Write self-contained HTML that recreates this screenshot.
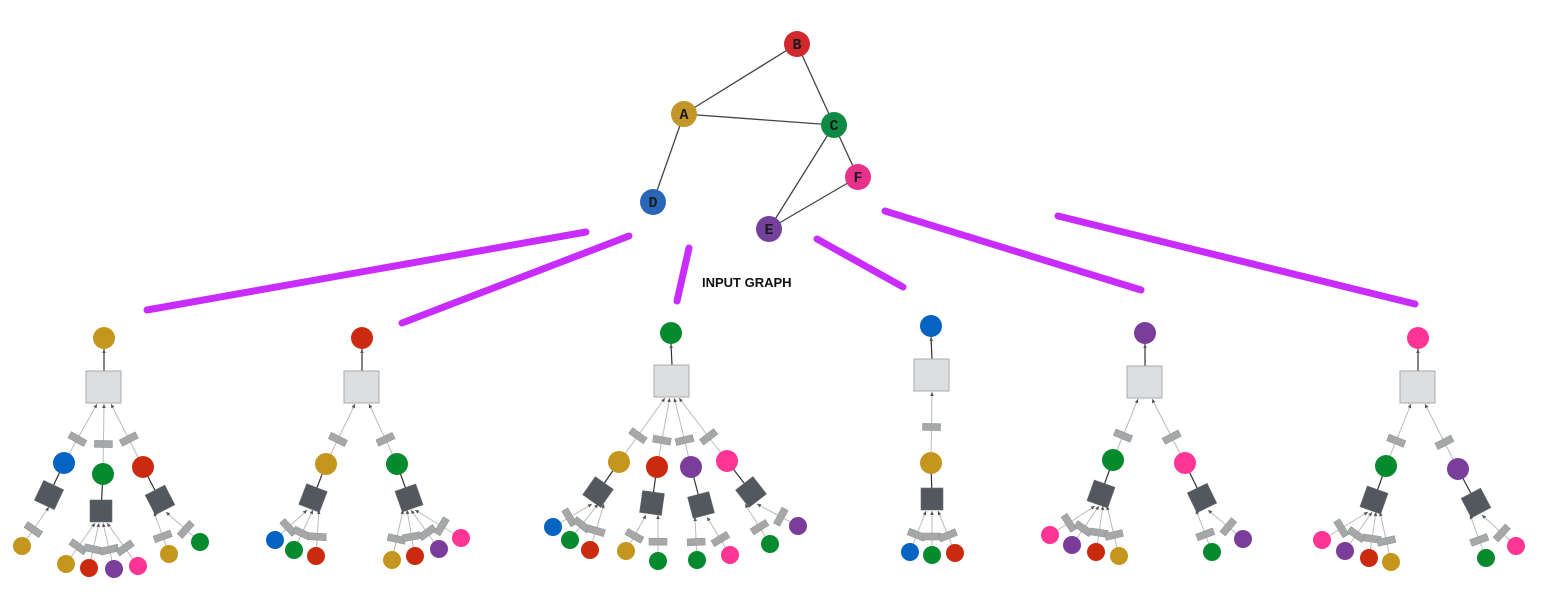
<!DOCTYPE html>
<html><head><meta charset="utf-8"><style>
html,body{margin:0;padding:0;background:#fff;width:1541px;height:603px;overflow:hidden}
svg{display:block}
</style></head><body>
<svg id="s" width="1541" height="603" xmlns="http://www.w3.org/2000/svg">
<g stroke="#c82cff" stroke-width="7" stroke-linecap="round">
<line x1="147" y1="310" x2="586" y2="232"/>
<line x1="402" y1="323" x2="629" y2="236"/>
<line x1="677" y1="301" x2="689" y2="248"/>
<line x1="817" y1="239" x2="903" y2="287"/>
<line x1="885" y1="211" x2="1141" y2="290"/>
<line x1="1058" y1="216" x2="1415" y2="304"/>
</g>
<g stroke="#444" stroke-width="1.3">
<line x1="684" y1="114" x2="797" y2="44"/>
<line x1="684" y1="114" x2="834" y2="125"/>
<line x1="797" y1="44" x2="834" y2="125"/>
<line x1="684" y1="114" x2="653" y2="202"/>
<line x1="834" y1="125" x2="769" y2="229"/>
<line x1="834" y1="125" x2="858" y2="177"/>
<line x1="858" y1="177" x2="769" y2="229"/>
</g>
<g font-family="'Liberation Mono',monospace" font-weight="bold" font-size="15" text-anchor="middle" fill="#1a1a1a">
<circle cx="797" cy="44" r="13" fill="#d0282c"/><text x="797" y="49">B</text>
<circle cx="684" cy="114" r="13" fill="#c4962a"/><text x="684" y="119">A</text>
<circle cx="834" cy="125" r="13" fill="#0e8a45"/><text x="834" y="130">C</text>
<circle cx="858" cy="177" r="13" fill="#e8318b"/><text x="858" y="182">F</text>
<circle cx="653" cy="202" r="13" fill="#2a66b8"/><text x="653" y="207">D</text>
<circle cx="769" cy="229" r="13" fill="#74419a"/><text x="769" y="234">E</text>
</g>
<text x="702" y="287" font-family="'Liberation Sans',sans-serif" font-weight="bold" font-size="13" fill="#111">INPUT GRAPH</text>
<g id="trees"></g>
</svg>
<script>
var C={g:"#c4961e",b:"#0563c1",n:"#058a2e",r:"#cc2a0f",p:"#7a3d9a",k:"#ff3595"};
var L="",S="",N="";
function ang(x1,y1,x2,y2){return Math.atan2(y2-y1,x2-x1)*180/Math.PI;}
function proj(x1,y1,x2,y2,px,py){var dx=x2-x1,dy=y2-y1,t=((px-x1)*dx+(py-y1)*dy)/(dx*dx+dy*dy);t=Math.max(0.2,Math.min(0.8,t));return [x1+dx*t,y1+dy*t];}
function lab(x,y,a){a+=90;while(a>90)a-=180;while(a<-90)a+=180;S+='<rect x="'+(x-9)+'" y="'+(y-3.5)+'" width="18" height="7" fill="#a5a7a8" stroke="#8f9192" stroke-width="0.5" transform="rotate('+a+' '+x+' '+y+')"/>';}
function arrow(x,y,a){S+='<polygon points="0,0 -4,-1.8 -4,1.8" fill="#555" transform="translate('+x+' '+y+') rotate('+a+')"/>';}
function circ(x,y,c,r){N+='<circle cx="'+x+'" cy="'+y+'" r="'+(r||10)+'" fill="'+C[c]+'"/>';}
function tree(t){
 var rx=t.root[0],ry=t.root[1],bx=t.box[0],by=t.box[1];
 L+='<line x1="'+bx+'" y1="'+(by-16)+'" x2="'+rx+'" y2="'+(ry+11)+'" stroke="#333" stroke-width="1.2"/>';
 arrow(rx,ry+11,ang(bx,by-16,rx,ry+11));
 N+='<rect x="'+(bx-18)+'" y="'+(by-16)+'" width="35" height="32" fill="#dddee0" stroke="#a9abad" stroke-width="1"/>';
 circ(rx,ry,t.root[2],11);
 t.ch.forEach(function(c,i){
  var n=t.ch.length,tx=bx+(n==1?0:(-7+14*i/(n-1))),ty=by+17;
  L+='<line x1="'+c.x+'" y1="'+c.y+'" x2="'+tx+'" y2="'+ty+'" stroke="#bbb" stroke-width="1"/>';
  arrow(tx,ty,ang(c.x,c.y,tx,ty));
  var p=proj(c.x,c.y,tx,ty,c.l[0],c.l[1]);
  lab(p[0],p[1],ang(c.x,c.y,tx,ty));
  circ(c.x,c.y,c.c,11);
  var dx=c.d[0],dy=c.d[1],a=ang(dx,dy,c.x,c.y)+90;
  L+='<line x1="'+dx+'" y1="'+dy+'" x2="'+c.x+'" y2="'+(c.y)+'" stroke="#333" stroke-width="1.2"/>';
  N+='<rect x="'+(dx-11)+'" y="'+(dy-11)+'" width="22" height="22" fill="#53575e" stroke="#6a6d72" stroke-width="0.6" transform="rotate('+(c.rot?a:0)+' '+dx+' '+dy+')"/>';
  var m=c.lv.length;
  c.lv.forEach(function(v,j){
   var ex=dx+(m==1?0:(-6+12*j/(m-1))), ey=dy+12;
   var t=0.42,qx=v[0]+(ex-v[0])*t,qy=v[1]+(ey-v[1])*t;
   L+='<line x1="'+v[0]+'" y1="'+v[1]+'" x2="'+ex+'" y2="'+ey+'" stroke="#bbb" stroke-width="1"/>';
   arrow(ex,ey,ang(v[0],v[1],ex,ey));
   lab(qx,qy,ang(v[0],v[1],ex,ey));
   circ(v[0],v[1],v[2],9);
  });
 });
}
var T=[
{root:[104,338,"g"],box:[104,387],ch:[
 {x:64,y:463,c:"b",l:[79,440],d:[49,495],rot:1,lv:[[22,546,"g",32,528]]},
 {x:103,y:474,c:"n",l:[103,444],d:[101,511],rot:0,lv:[[66,564,"g",75,546],[89,568,"r",92,550],[114,569,"p",111,550],[138,566,"k",127,548]]},
 {x:143,y:467,c:"r",l:[127,440],d:[160,500],rot:1,lv:[[169,554,"g",166,537],[200,542,"n",187,528]]}]},
{root:[362,338,"r"],box:[362,387],ch:[
 {x:326,y:464,c:"g",l:[339,440],d:[313,498],rot:1,lv:[[275,540,"b",287,525],[294,550,"n",299,533],[316,556,"r",315,535]]},
 {x:397,y:464,c:"n",l:[386,439],d:[409,498],rot:1,lv:[[392,560,"g",395,540],[415,556,"r",412,538],[439,549,"p",430,532],[461,538,"k",445,524]]}]},
{root:[671,333,"n"],box:[672,381],ch:[
 {x:619,y:462,c:"g",l:[637,435],d:[598,492],rot:1,lv:[[553,527,"b",567,514],[570,540,"n",578,524],[590,550,"r",593,529]]},
 {x:657,y:467,c:"r",l:[661,440],d:[652,503],rot:1,lv:[[626,551,"g",634,536],[658,561,"n",656,542]]},
 {x:691,y:467,c:"p",l:[685,440],d:[701,505],rot:1,lv:[[697,560,"n",698,543],[730,555,"k",721,539]]},
 {x:727,y:461,c:"k",l:[711,435],d:[751,492],rot:1,lv:[[770,544,"n",763,528],[798,526,"p",782,516]]}]},
{root:[931,326,"b"],box:[932,375],ch:[
 {x:931,y:463,c:"g",l:[932,427],d:[932,499],rot:0,lv:[[910,552,"b",917,534],[932,555,"n",932,537],[955,553,"r",947,534]]}]},
{root:[1145,333,"p"],box:[1145,382],ch:[
 {x:1113,y:460,c:"n",l:[1124,436],d:[1101,494],rot:1,lv:[[1050,535,"k",1066,521],[1072,545,"p",1081,529],[1096,552,"r",1099,535],[1119,556,"g",1115,536]]},
 {x:1185,y:463,c:"k",l:[1172,437],d:[1202,498],rot:1,lv:[[1212,552,"n",1209,535],[1243,539,"p",1230,526]]}]},
{root:[1418,338,"k"],box:[1418,387],ch:[
 {x:1386,y:466,c:"n",l:[1397,441],d:[1374,500],rot:1,lv:[[1322,540,"k",1339,526],[1345,551,"p",1354,533],[1369,558,"r",1371,540],[1391,562,"g",1388,541]]},
 {x:1458,y:469,c:"p",l:[1445,442],d:[1476,503],rot:1,lv:[[1486,558,"n",1481,541],[1516,546,"k",1503,532]]}]}
];
T.forEach(tree);
document.getElementById("trees").innerHTML=L+N+S;
</script>
</body></html>
